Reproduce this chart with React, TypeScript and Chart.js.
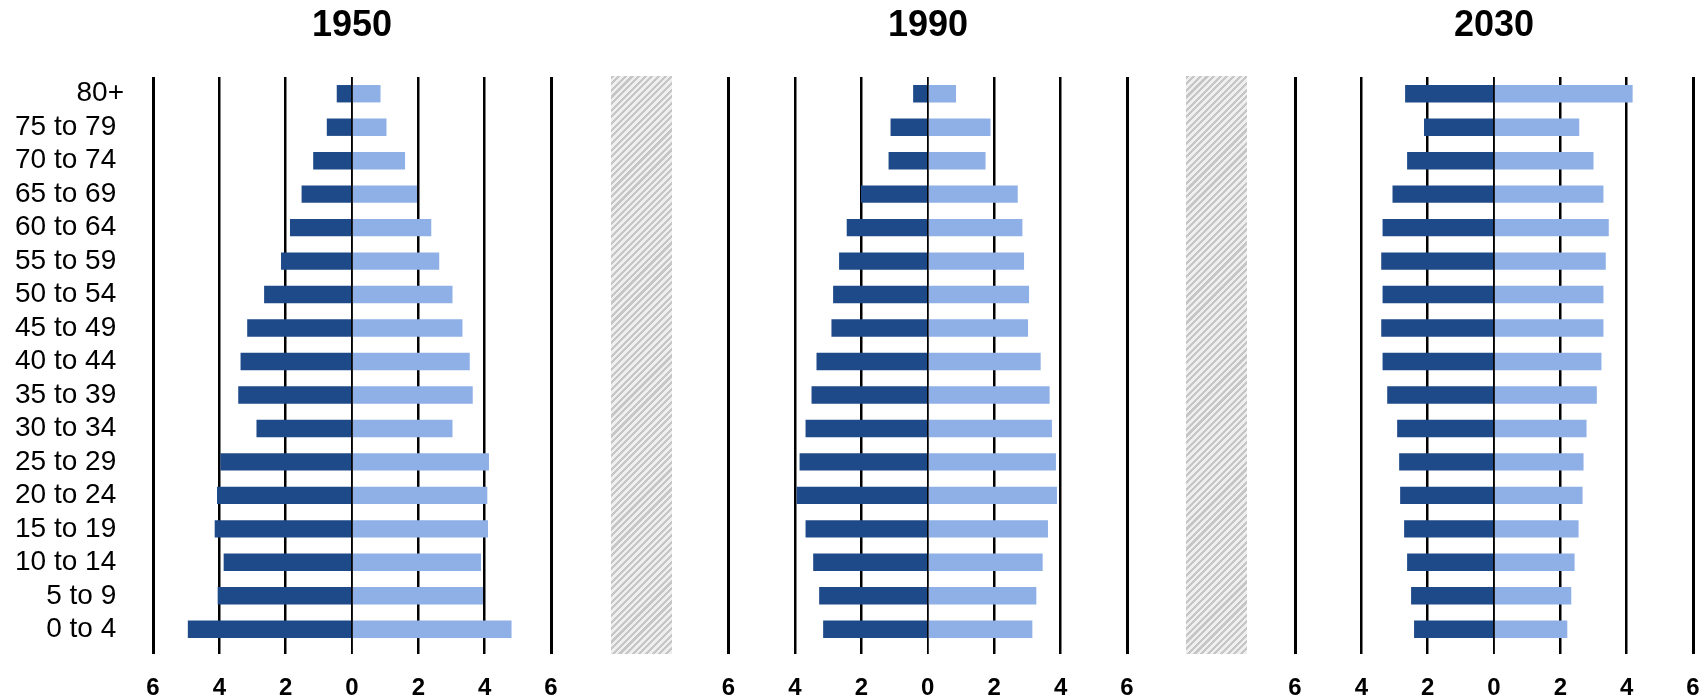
import React, { useEffect, useRef } from 'react';
import { Chart, registerables } from 'chart.js';

Chart.register(...registerables);

const FONT = "'Liberation Sans', Arial, sans-serif";
Chart.defaults.font.family = FONT;

// ---- data ----
const ageGroups = [
  '80+', '75 to 79', '70 to 74', '65 to 69', '60 to 64', '55 to 59', '50 to 54', '45 to 49',
  '40 to 44', '35 to 39', '30 to 34', '25 to 29', '20 to 24', '15 to 19', '10 to 14', '5 to 9', '0 to 4',
];

const years = ['1950', '1990', '2030'];

const male1950 = [0.46, 0.76, 1.17, 1.52, 1.87, 2.14, 2.65, 3.16, 3.36, 3.43, 2.88, 3.97, 4.07, 4.14, 3.87, 4.05, 4.95];
const female1950 = [0.86, 1.04, 1.60, 1.96, 2.39, 2.63, 3.03, 3.33, 3.55, 3.64, 3.03, 4.13, 4.08, 4.10, 3.89, 3.95, 4.81];

const male1990 = [0.44, 1.12, 1.18, 2.01, 2.44, 2.67, 2.85, 2.90, 3.35, 3.50, 3.68, 3.86, 3.95, 3.68, 3.45, 3.27, 3.15];
const female1990 = [0.85, 1.89, 1.74, 2.71, 2.85, 2.90, 3.05, 3.02, 3.40, 3.67, 3.74, 3.86, 3.89, 3.62, 3.46, 3.27, 3.15];

const male2030 = [2.68, 2.11, 2.62, 3.06, 3.36, 3.40, 3.36, 3.40, 3.36, 3.22, 2.92, 2.86, 2.83, 2.71, 2.62, 2.50, 2.41];
const female2030 = [4.18, 2.57, 3.00, 3.30, 3.46, 3.37, 3.30, 3.30, 3.24, 3.10, 2.79, 2.70, 2.67, 2.55, 2.43, 2.33, 2.21];

const xTickValues = [-6, -4, -2, 0, 2, 4, 6];

const DARK = '#1F4A89';
const LIGHT = '#8FB0E6';

const zeroLinePlugin = {
  id: 'zeroLine',
  afterDatasetsDraw(chart: any) {
    const x = chart.scales.x.getPixelForValue(0);
    const { top, bottom } = chart.chartArea;
    const ctx = chart.ctx;
    ctx.save();
    ctx.strokeStyle = '#000';
    ctx.lineWidth = 1.5;
    ctx.beginPath();
    ctx.moveTo(x, top);
    ctx.lineTo(x, bottom + 8);
    ctx.stroke();
    ctx.restore();
  },
};

type PanelProps = {
  males: number[];
  females: number[];
  showLabels: boolean;
  left: number;
  width: number;
  padLeft: number;
  padRight: number;
  yWidth: number;
};

function Pyramid({ males, females, showLabels, left, width, padLeft, padRight, yWidth }: PanelProps) {
  const ref = useRef<HTMLCanvasElement>(null);
  useEffect(() => {
    const chart = new Chart(ref.current as HTMLCanvasElement, {
      type: 'bar',
      data: {
        labels: ageGroups,
        datasets: [
          {
            label: 'Male',
            data: males.map((v) => -v),
            backgroundColor: DARK,
            barPercentage: 0.52,
            categoryPercentage: 1,
          },
          {
            label: 'Female',
            data: females,
            backgroundColor: LIGHT,
            barPercentage: 0.52,
            categoryPercentage: 1,
          },
        ],
      },
      options: {
        indexAxis: 'y',
        animation: false,
        responsive: false,
        maintainAspectRatio: false,
        layout: { padding: { top: 77, left: padLeft, right: padRight, bottom: 0 } },
        plugins: {
          legend: { display: false },
          tooltip: { enabled: false },
          title: { display: false },
        },
        scales: {
          x: {
            stacked: true,
            min: -6,
            max: 6,
            afterBuildTicks: (s: any) => {
              s.ticks = xTickValues.map((v) => ({ value: v }));
            },
            afterFit: (s: any) => {
              s.height = 54;
              s.paddingLeft = 0;
              s.paddingRight = 0;
            },
            grid: {
              color: '#000',
              lineWidth: (c: any) => {
                const v = c.tick ? c.tick.value : 1;
                if (v === 0) return 1.5;
                if (Math.abs(v) === 6) return 3;
                return 2.5;
              },
              drawTicks: true,
              tickLength: 8,
            },
            border: { display: false },
            ticks: {
              color: '#000',
              font: { size: 24, weight: 'bold', family: FONT },
              padding: 20,
              maxRotation: 0,
              autoSkip: false,
              callback: (v: any) => String(Math.abs(Number(v))),
            },
          },
          y: {
            stacked: true,
            display: showLabels,
            afterFit: (s: any) => {
              s.width = yWidth;
            },
            grid: { display: false, drawTicks: false },
            border: { display: false },
            ticks: {
              color: '#000',
              font: { size: 28, family: FONT },
              padding: 29,
              autoSkip: false,
              callback: (_v: any, i: number) => {
                const l = ageGroups[i];
                return l.includes(' to ') ? l + ' ' : l;
              },
            },
          },
        },
      },
      plugins: [zeroLinePlugin],
    } as any);
    return () => chart.destroy();
  }, []);
  return (
    <canvas
      ref={ref}
      width={width}
      height={700}
      style={{ position: 'absolute', left, top: 0, width, height: 700 }}
    />
  );
}

function Title({ text, center }: { text: string; center: number }) {
  return (
    <div
      style={{
        position: 'absolute',
        left: center - 100,
        top: 6,
        width: 200,
        textAlign: 'center',
        fontFamily: FONT,
        fontWeight: 'bold',
        fontSize: 36,
        lineHeight: '36px',
        color: '#000',
      }}
    >
      {text}
    </div>
  );
}

function Hatch({ left }: { left: number }) {
  return (
    <div
      style={{
        position: 'absolute',
        left,
        top: 76,
        width: 61,
        height: 578,
        background:
          'repeating-linear-gradient(135deg, #c6c6c6 0px, #c6c6c6 2.2px, #efefef 2.2px, #efefef 4.7px)',
      }}
    />
  );
}

export default function App() {
  return (
    <div
      style={{
        position: 'fixed',
        left: 0,
        top: 0,
        width: 1708,
        height: 700,
        background: '#fff',
        overflow: 'hidden',
      }}
    >
      <Pyramid males={male1950} females={female1950} showLabels={true} left={0} width={563} padLeft={0} padRight={12} yWidth={153} />
      <Pyramid males={male1990} females={female1990} showLabels={false} left={700} width={450} padLeft={28.5} padRight={23} yWidth={0} />
      <Pyramid males={male2030} females={female2030} showLabels={false} left={1270} width={438} padLeft={25} padRight={15} yWidth={0} />
      <Hatch left={611} />
      <Hatch left={1186} />
      <Title text={years[0]} center={352} />
      <Title text={years[1]} center={928} />
      <Title text={years[2]} center={1494} />
    </div>
  );
}
